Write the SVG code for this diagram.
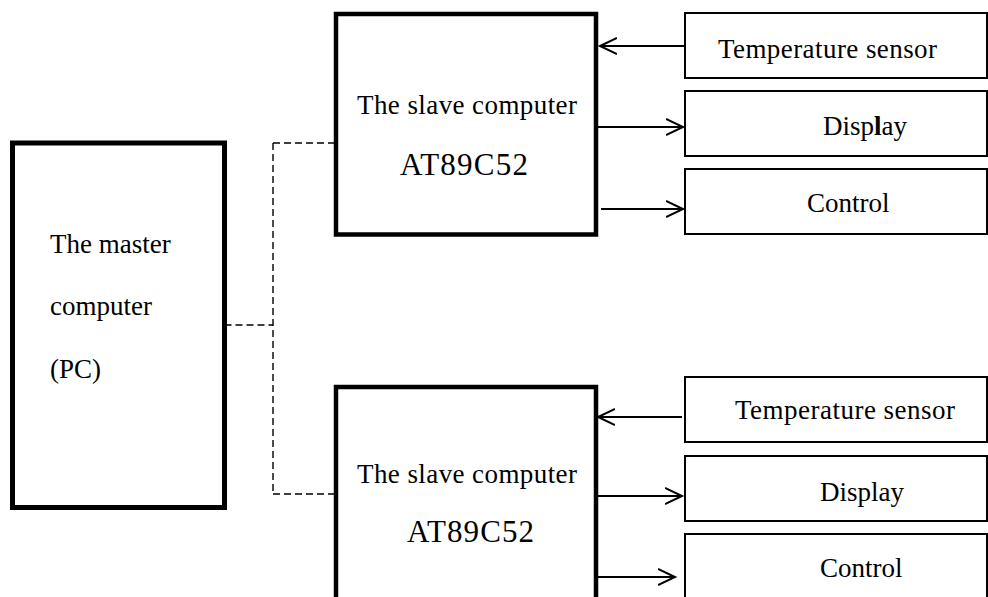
<svg xmlns="http://www.w3.org/2000/svg" width="988" height="597" viewBox="0 0 988 597">
<style>
text{font-family:"Liberation Serif","Times New Roman",serif;fill:#000}
.t{font-size:27px}
.big{font-size:31px}
.master{fill:#fff;stroke:#000;stroke-width:5}
.slave{fill:#fff;stroke:#000;stroke-width:4.5}
.dev{fill:#fff;stroke:#000;stroke-width:2}
.dash{fill:none;stroke:#000;stroke-width:1.4;stroke-dasharray:7 4}
.arr{fill:none;stroke:#000;stroke-width:2;marker-end:url(#ah)}
</style>
<defs>
<marker id="ah" markerUnits="userSpaceOnUse" markerWidth="20" markerHeight="20" refX="17" refY="9" orient="auto" viewBox="0 0 20 18">
<path d="M0,1 L17,9 L0,17" fill="none" stroke="#000" stroke-width="2"/>
</marker>
</defs>
<rect width="988" height="597" fill="#fff"/>
<g id="connectors">
<path class="dash" d="M224.5,325 H273 M273,143 V494 M273,143 H336 M273,494 H336"/>
<line class="arr" x1="684" y1="46" x2="600" y2="46"/>
<line class="arr" x1="598" y1="127" x2="683" y2="127"/>
<line class="arr" x1="601" y1="209" x2="683" y2="209"/>
<line class="arr" x1="682" y1="417" x2="598" y2="417"/>
<line class="arr" x1="598" y1="496" x2="682" y2="496"/>
<line class="arr" x1="593" y1="577" x2="675" y2="577"/>
</g>
<g id="master">
<rect class="master" x="12.5" y="143" width="212" height="364.5"/>
<text class="t" x="50" y="253">The master</text>
<text class="t" x="50" y="315">computer</text>
<text class="t" x="50" y="378">(PC)</text>
</g>
<g id="slave1">
<rect class="slave" x="336" y="14" width="260" height="220.5"/>
<text class="t" x="357" y="114" textLength="220" lengthAdjust="spacing">The slave computer</text>
<text class="big" x="400" y="175" textLength="128" lengthAdjust="spacing">AT89C52</text>
</g>
<g id="slave2">
<rect class="slave" x="336" y="387" width="260" height="220"/>
<text class="t" x="357" y="483" textLength="220" lengthAdjust="spacing">The slave computer</text>
<text class="big" x="407" y="542" textLength="127" lengthAdjust="spacing">AT89C52</text>
</g>
<g id="sensor1">
<rect class="dev" x="685" y="13" width="302" height="65"/>
<text class="t" x="718" y="58" textLength="219" lengthAdjust="spacing">Temperature sensor</text>
</g>
<g id="display1">
<rect class="dev" x="685" y="91" width="302" height="65"/>
<text class="t" x="823" y="135">Disp<tspan font-weight="bold">l</tspan>ay</text>
</g>
<g id="control1">
<rect class="dev" x="685" y="169" width="302" height="65"/>
<text class="t" x="807" y="212">Control</text>
</g>
<g id="sensor2">
<rect class="dev" x="685" y="377" width="302" height="65"/>
<text class="t" x="735" y="419" textLength="220" lengthAdjust="spacing">Temperature sensor</text>
</g>
<g id="display2">
<rect class="dev" x="685" y="456" width="302" height="65"/>
<text class="t" x="820" y="501">Display</text>
</g>
<g id="control2">
<rect class="dev" x="685" y="534" width="302" height="70"/>
<text class="t" x="820" y="577">Control</text>
</g>
</svg>
